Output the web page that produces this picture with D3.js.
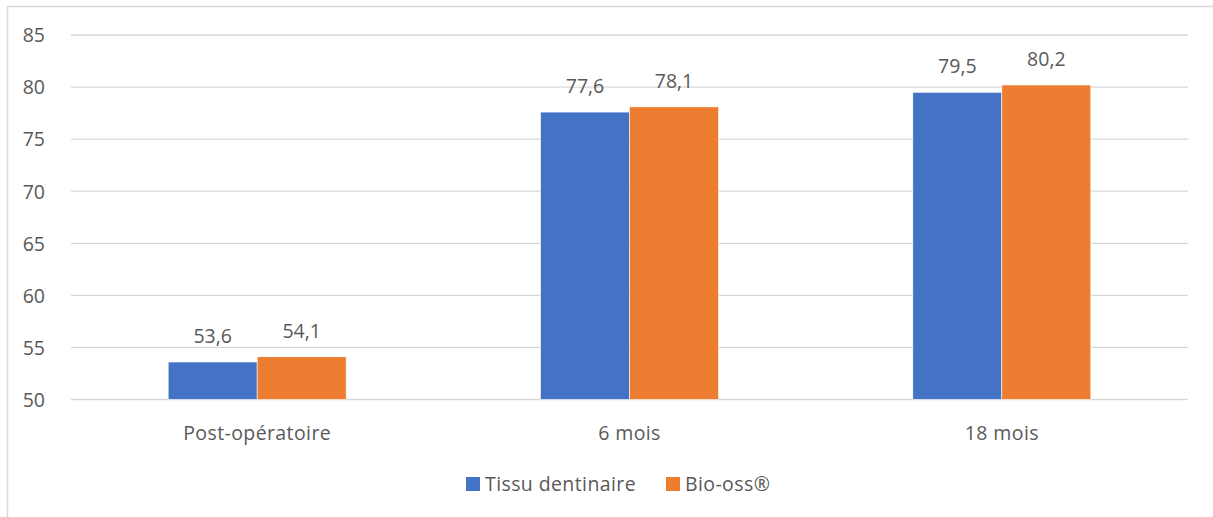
<!DOCTYPE html>
<html lang="fr">
<head>
<meta charset="utf-8">
<title>Tissu dentinaire vs Bio-oss</title>
<script src="https://d3js.org/d3.v7.min.js"></script>
<style>
  body { margin: 0; background: #fff; }
  svg text { font-family: "Open Sans", "Liberation Sans", sans-serif; fill: #595959; font-size: 19.5px; }
</style>
</head>
<body>
<div id="chart"></div>
<script>
// data
var categories = ["Post-opératoire", "6 mois", "18 mois"];
var seriesNames = ["Tissu dentinaire", "Bio-oss®"];
var tissuValues = [53.6, 77.6, 79.5];
var biossValues = [54.1, 78.1, 80.2];
var yTicks = [50, 55, 60, 65, 70, 75, 80, 85];
var colors = ["#4472C4", "#ED7D31"];

var W = 1213, H = 517;
var margin = {top: 35, right: 25, bottom: 117.5, left: 71};
var width = 1188 - margin.left, height = 399.5 - margin.top;

var svg = d3.select("#chart").append("svg")
    .attr("width", W).attr("height", H);

// chart frame (only left + top visible in the crop)
svg.append("rect")
    .attr("x", 7.5).attr("y", 6.5)
    .attr("width", W + 10).attr("height", H + 10)
    .attr("fill", "none").attr("stroke", "#d9d9d9").attr("stroke-width", 1.5);

var g = svg.append("g")
    .attr("transform", "translate(" + margin.left + "," + margin.top + ")");

var x = d3.scaleBand().domain(categories).range([0, width]);
var xs = d3.scaleBand().domain([0, 1]).range([0, 178]);
var y = d3.scaleLinear().domain([50, 85]).range([height, 0]);

// gridlines
g.selectAll(".grid").data(yTicks).enter().append("line")
    .attr("x1", 0).attr("x2", width)
    .attr("y1", function(d) { return y(d); })
    .attr("y2", function(d) { return y(d); })
    .attr("stroke", "#d9d9d9").attr("stroke-width", 1.3);

// y axis labels
var yAxis = g.append("g")
    .attr("transform", "translate(-23,0)")
    .call(d3.axisLeft(y).tickValues(yTicks).tickSize(0).tickFormat(d3.format("d")));
yAxis.select(".domain").remove();
yAxis.selectAll("text").style("font-size", null).attr("dy", "0.35em");
yAxis.attr("font-size", null).attr("font-family", null);

// x axis labels
var xAxis = g.append("g")
    .attr("transform", "translate(0," + height + ")")
    .call(d3.axisBottom(x).tickSize(0));
xAxis.select(".domain").remove();
xAxis.attr("font-size", null).attr("font-family", null);
xAxis.selectAll("text").attr("y", 40).attr("dy", 0).style("letter-spacing", "0.4px");

var rows = categories.map(function(c, i) {
  return {cat: c, vals: [tissuValues[i], biossValues[i]]};
});

var groups = g.selectAll(".grp").data(rows).enter().append("g")
    .attr("transform", function(d) { return "translate(" + (x(d.cat) + x.bandwidth() / 2 - 89) + ",0)"; });

groups.selectAll("rect").data(function(d) { return d.vals; }).enter().append("rect")
    .attr("x", function(d, i) { return xs(i); })
    .attr("width", xs.bandwidth())
    .attr("y", function(d) { return y(d); })
    .attr("height", function(d) { return height - y(d); })
    .attr("fill", function(d, i) { return colors[i]; })
    .attr("stroke", "#fff").attr("stroke-width", 0.6);

var fmt = function(v) { return d3.format(".1f")(v).replace(".", ","); };
groups.selectAll(".lbl").data(function(d) { return d.vals; }).enter().append("text")
    .attr("x", function(d, i) { return xs(i) + xs.bandwidth() / 2; })
    .attr("y", function(d) { return y(d) - 19; })
    .attr("text-anchor", "middle")
    .text(fmt);

// legend
var legend = svg.append("g");
var legX = [466, 666];
seriesNames.forEach(function(name, i) {
  legend.append("rect")
      .attr("x", legX[i]).attr("y", 477)
      .attr("width", 14).attr("height", 14)
      .attr("fill", colors[i]);
  legend.append("text")
      .attr("x", legX[i] + 19).attr("y", 491)
      .style("letter-spacing", "0.4px")
      .text(name);
});
</script>
</body>
</html>
